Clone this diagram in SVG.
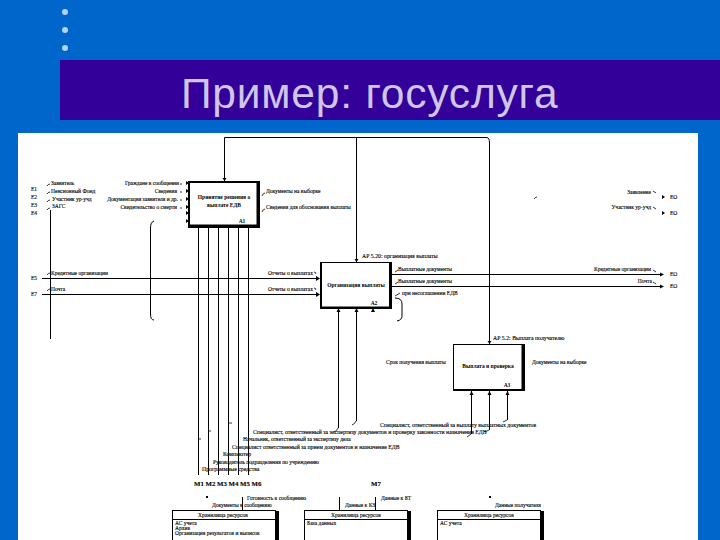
<svg xmlns="http://www.w3.org/2000/svg" width="720" height="540" viewBox="0 0 720 540">
<style>
.ln{fill:none;stroke:#000;stroke-width:1}
.tk{fill:none;stroke:#000;stroke-width:.8}
.box{fill:#fff;stroke:#000;stroke-width:1}
.sh{fill:#000}
text{font-family:"Liberation Serif",serif;font-size:5.5px;fill:#000;stroke:#000;stroke-width:.12}
.m{text-anchor:middle;font-weight:bold;stroke:none}
.e{text-anchor:end}
.b{font-size:5.8px}
.c{text-anchor:middle}
</style>
<rect width="720" height="540" fill="#0066cc"/>
<g id="bullets" fill="#b3d4f5"><circle cx="65" cy="12" r="3"/><circle cx="65" cy="30" r="3"/><circle cx="65" cy="48" r="3"/></g>
<rect x="60" y="60" width="660" height="60" fill="#330099"/>
<text x="181" y="108" style="font-family:'Liberation Sans',sans-serif;font-size:42.500px;fill:#cfc6ea;stroke:none;letter-spacing:.8px">Пример: госуслуга</text>
<rect x="18" y="133" width="680" height="407" fill="#fff"/>
<g id="connectors">
<path class="ln" d="M224.500 181V137.500H487Q489.500 138 489.500 143V344M356.500 137.500V262"/>
<path class="ln" d="M50.500 210V339M42 278.500H318M42 294.500H318M392 274.500H663M392 286.500H663"/>
<path class="ln" d="M198.500 228V475M208.500 228V475M218.500 228V475M228.500 228V475M238.500 228V475M248.500 228V475"/>
<path class="ln" d="M338.500 308V428M356.500 308V421M471.500 391V434M489.500 391V430M507.500 391V420"/>
<path class="ln" d="M154 221Q150.500 222 150.500 228V314Q150.500 320 154 320M395 298Q402 298 402 304V316Q402 320 397 321"/>
<path class="ln" d="M242.500 497V510M339.500 497V510M375.500 497V510"/>
<path class="tk" d="M198 439H201M208 431H211M229 423H232M338 428Q337 431 334 432M356 421Q355 424 352 425M471 434L467 437M489 430L485 432M507 420L503 422M534 199Q535 197 537 197"/>
<path class="tk" d="M47 186Q48 184 50 184M47 194Q48 192 50 192M47 202Q48 200 50 200M47 210Q48 208 50 208M47 275Q48 273 50 273M47 291Q48 289 50 289"/>
<path class="tk" d="M180 184H182M180 192H182M180 200H182M180 208H182M262 196Q263 193 265 193M262 212Q263 209 265 209M314 272Q316 272 316 274M314 288Q316 288 316 290M395 272L398 270M395 284L398 282M395 296L400 293M653 191L656 193M653 207L656 209M653 270L656 272M653 282L656 284"/>
<g fill="#000"><path d="M186 181L189 183L186 185ZM186 189L189 191L186 193ZM186 197L189 199L186 201ZM186 205L189 207L186 209ZM186 211L189 213L186 215ZM186 219L189 221L186 223Z"/><path d="M662 195L665 197L662 199ZM662 211L665 213L662 215ZM660 272.500L664 274.500L660 276.500ZM660 284.500L664 286.500L660 288.500Z"/><path d="M222.500 178L224.500 181L226.500 178ZM354.500 259L356.500 262L358.500 259ZM487.500 341L489.500 344L491.500 341Z"/><path d="M316 276L320 278.500L316 281ZM316 292L320 294.500L316 297Z"/><path d="M336.500 312L338.500 308L340.500 312ZM354.500 312L356.500 308L358.500 312ZM371 312L373 308L375 312ZM469.500 395L471.500 391L473.500 395ZM487.500 395L489.500 391L491.500 395ZM505.500 395L507.500 391L509.500 395Z"/><rect x="206" y="496" width="2" height="2"/><rect x="489" y="496" width="2" height="2"/></g>
</g>
<g id="node-a1"><rect x="188" y="181" width="72" height="47" class="sh"/><rect x="190" y="183" width="66.500" height="41.500" fill="#fff"/><text x="224" y="199" class="m">Принятие решения о</text><text x="224" y="207" class="m">выплате ЕДВ</text><text x="242" y="223" class="m">А1</text></g>
<g id="node-a2"><rect x="320" y="262" width="72" height="47" class="sh"/><rect x="322" y="263" width="67" height="43.500" fill="#fff"/><text x="356" y="287" class="m">Организация выплаты</text><text x="374" y="305" class="m">А2</text></g>
<g id="node-a3"><rect x="453" y="344" width="72" height="47" class="sh"/><rect x="454" y="345" width="67.500" height="44" fill="#fff"/><text x="488" y="368" class="m">Выплата и проверка</text><text x="507" y="387" class="m">А3</text></g>
<g id="left-labels">
<text x="51" y="185">Заявитель</text><text x="51" y="193">Пенсионный Фонд</text><text x="52" y="201">Участник ур-учд</text><text x="52" y="208">ЗАГС</text>
<text x="31" y="191">Е1</text><text x="31" y="199">Е2</text><text x="31" y="207">Е3</text><text x="31" y="215">Е4</text>
<text x="31" y="280">Е5</text><text x="31" y="296">Е7</text>
<text x="51" y="275">Кредитные организации</text><text x="51" y="291">Почта</text>
<text class="e" x="179" y="185">Граждане в сообщении</text><text class="e" x="177" y="193">Сведения</text><text class="e" x="178" y="201">Документация заявителя и др.</text><text class="e" x="177" y="209">Свидетельство о смерти</text>
<text x="266" y="193">Документы на выборке</text><text x="266" y="209">Сведения для обоснования выплаты</text>
<text class="e" x="313" y="275">Отчеты о выплатах</text><text class="e" x="313" y="291">Отчеты о выплатах</text>
</g>
<g id="right-labels">
<text x="362" y="258" class="b">АР 5.20: организация выплаты</text><text x="398" y="271">Выплатные документы</text><text x="398" y="283">Выплатные документы</text><text x="402" y="295">при несоглашении ЕДВ</text>
<text class="e" x="651" y="271">Кредитные организации</text><text class="e" x="652" y="283">Почта</text><text class="e" x="651" y="194">Заявление</text><text class="e" x="651" y="209">Участник ур-учд</text>
<text x="670" y="199">ЕО</text><text x="670" y="215">ЕО</text><text x="670" y="276">ЕО</text><text x="670" y="288">ЕО</text>
<text x="493" y="340" class="b">АР 5.2: Выплата получателю</text><text x="386" y="364">Срок получения выплаты</text><text x="532" y="364">Документы на выборке</text>
</g>
<g id="mech-labels">
<text x="380" y="427" class="b">Специалист, ответственный за выплату выплатных документов</text>
<text x="253" y="434" class="b">Специалист, ответственный за экспертизу документов и проверку законности назначения ЕДВ</text>
<text x="243" y="441">Начальник, ответственный за экспертизу дела</text>
<text x="232" y="449" class="b">Специалист ответственный за прием документов и назначение ЕДВ</text>
<text x="223" y="456" class="b">Компьютер</text><text x="213" y="464">Руководитель подразделения по учреждению</text><text x="202" y="471" class="b">Программные средства</text>
<text x="194" y="486" style="font-size:6.800px;font-weight:bold">М1 М2 М3 М4 М5 М6</text><text x="371" y="486" style="font-size:6.800px;font-weight:bold">М7</text>
<text x="247" y="500">Готовность к сообщению</text><text x="212" y="507">Документы к сообщению</text><text x="345" y="507">Данные к КЗ</text><text x="381" y="500">Данные к БТ</text><text x="495" y="507">Данные получателя</text>
</g>
<g id="store-1"><rect x="172.500" y="510.500" width="103" height="30" class="box"/><rect x="275" y="511" width="4" height="29" class="sh"/><path d="M172 519.500H275" class="ln"/><text x="223" y="517" class="c">Хранилища ресурсов</text><text x="175" y="525">АС учета</text><text x="175" y="530">Архив</text><text x="175" y="535">Организация результатов и выписок</text></g>
<g id="store-2"><rect x="304.500" y="510.500" width="103" height="30" class="box"/><rect x="407" y="511" width="4" height="29" class="sh"/><path d="M304 519.500H407" class="ln"/><text x="356" y="517" class="c">Хранилища ресурсов</text><text x="307" y="525">База данных</text></g>
<g id="store-3"><rect x="437.500" y="510.500" width="103" height="30" class="box"/><rect x="540" y="511" width="4" height="29" class="sh"/><path d="M437 519.500H540" class="ln"/><text x="489" y="517" class="c">Хранилища ресурсов</text><text x="440" y="525">АС учета</text></g>
</svg>
